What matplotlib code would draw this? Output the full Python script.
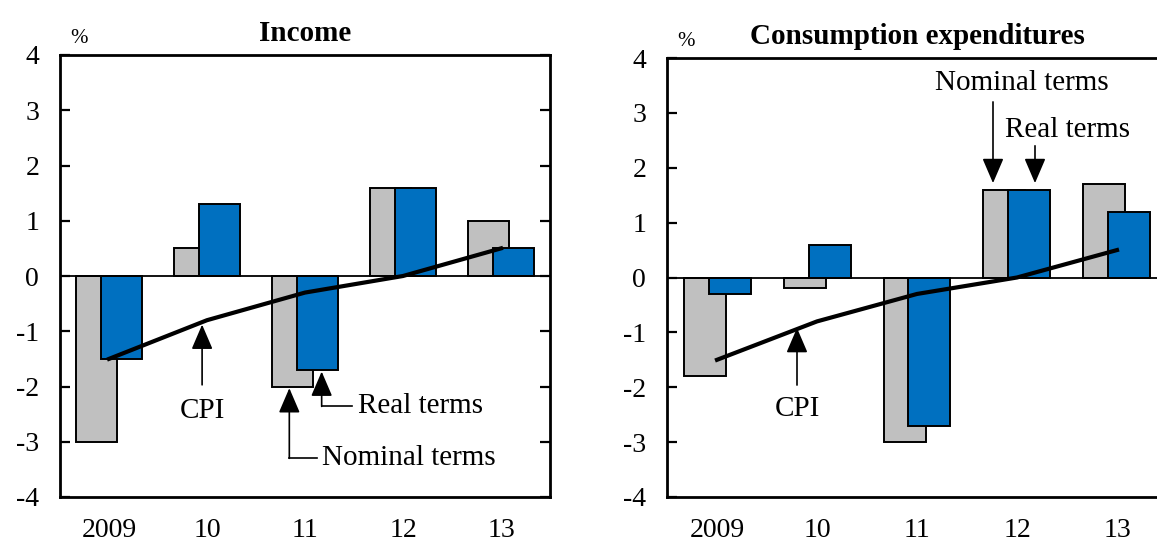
import matplotlib.pyplot as plt
import numpy as np

plt.rcParams['font.family'] = ['Liberation Serif', 'DejaVu Serif']

# data
years = ['2009', '10', '11', '12', '13']
cpi = [-1.5, -0.8, -0.3, 0.0, 0.5]

income_nominal = [-3.0, 0.5, -2.0, 1.6, 1.0]
income_real = [-1.5, 1.3, -1.7, 1.6, 0.5]

cons_nominal = [-1.8, -0.2, -3.0, 1.6, 1.7]
cons_real = [-0.3, 0.6, -2.7, 1.6, 1.2]

GRAY = '#C0C0C0'
BLUE = '#0070C0'

fig = plt.figure(figsize=(11.57, 5.41), dpi=100)
ax1 = fig.add_axes([60 / 1157, 44 / 541, 490 / 1157, 442 / 541])
ax2 = fig.add_axes([667 / 1157, 44 / 541, 500 / 1157, 439 / 541])


def draw_panel(ax, title, nominal, real):
    x = np.arange(len(years))
    ax.bar(x - 0.125, nominal, width=0.42, color=GRAY, edgecolor='black', linewidth=1.4, zorder=2)
    ax.bar(x + 0.125, real, width=0.42, color=BLUE, edgecolor='black', linewidth=1.4, zorder=3)
    ax.plot(x, cpi, color='black', linewidth=3.0, zorder=4)
    ax.axhline(0, color='black', linewidth=1.3, zorder=5)

    ax.set_xlim(-0.5, len(years) - 0.5)
    ax.set_ylim(-4, 4)
    ax.set_yticks(range(-4, 5))
    ax.set_yticklabels([str(v) for v in range(-4, 5)])
    ax.set_xticks(x)
    ax.set_xticklabels(years)
    ax.tick_params(axis='y', direction='in', length=7, width=1.6, left=True, right=True,
                   labelsize=20, pad=15)
    ax.tick_params(axis='x', length=0, labelsize=20, pad=15)
    for s in ax.spines.values():
        s.set_linewidth(2.0)
    ax.set_title(title, fontsize=21, fontweight='bold', pad=10)
    ax.text(0.02, 1.015, '%', transform=ax.transAxes, fontsize=15, ha='left', va='bottom')


draw_panel(ax1, 'Income', income_nominal, income_real)
draw_panel(ax2, 'Consumption expenditures', cons_nominal, cons_real)

arrow = dict(arrowstyle='-|>,head_length=0.7,head_width=0.3', color='black', lw=1.2,
             mutation_scale=22, shrinkA=0, shrinkB=0)

# Income annotations
ax1.annotate('', xy=(0.95, cpi[1] - 0.08), xytext=(0.95, -1.97), arrowprops=arrow)
ax1.text(0.95, -2.45, 'CPI', fontsize=21, ha='center', va='center')

ax1.annotate('', xy=(2.17, income_real[2] - 0.03), xytext=(2.17, -2.36), arrowprops=arrow)
ax1.plot([2.17, 2.48], [-2.36, -2.36], color='black', lw=1.2)
ax1.text(2.54, -2.36, 'Real terms', fontsize=21, ha='left', va='center')

ax1.annotate('', xy=(1.84, income_nominal[2] - 0.03), xytext=(1.84, -3.3), arrowprops=arrow)
ax1.plot([1.84, 2.12], [-3.3, -3.3], color='black', lw=1.2)
ax1.text(2.17, -3.3, 'Nominal terms', fontsize=21, ha='left', va='center')

# Consumption annotations
ax2.annotate('', xy=(0.8, -0.92), xytext=(0.8, -1.96), arrowprops=arrow)
ax2.text(0.8, -2.4, 'CPI', fontsize=21, ha='center', va='center')

ax2.annotate('', xy=(2.76, cons_nominal[3] + 0.12), xytext=(2.76, 3.2), arrowprops=arrow)
ax2.text(3.05, 3.55, 'Nominal terms', fontsize=21, ha='center', va='center')

ax2.annotate('', xy=(3.18, cons_real[3] + 0.12), xytext=(3.18, 2.4), arrowprops=arrow)
ax2.text(3.51, 2.68, 'Real terms', fontsize=21, ha='center', va='center')

fig.savefig('out.png', dpi=100)
